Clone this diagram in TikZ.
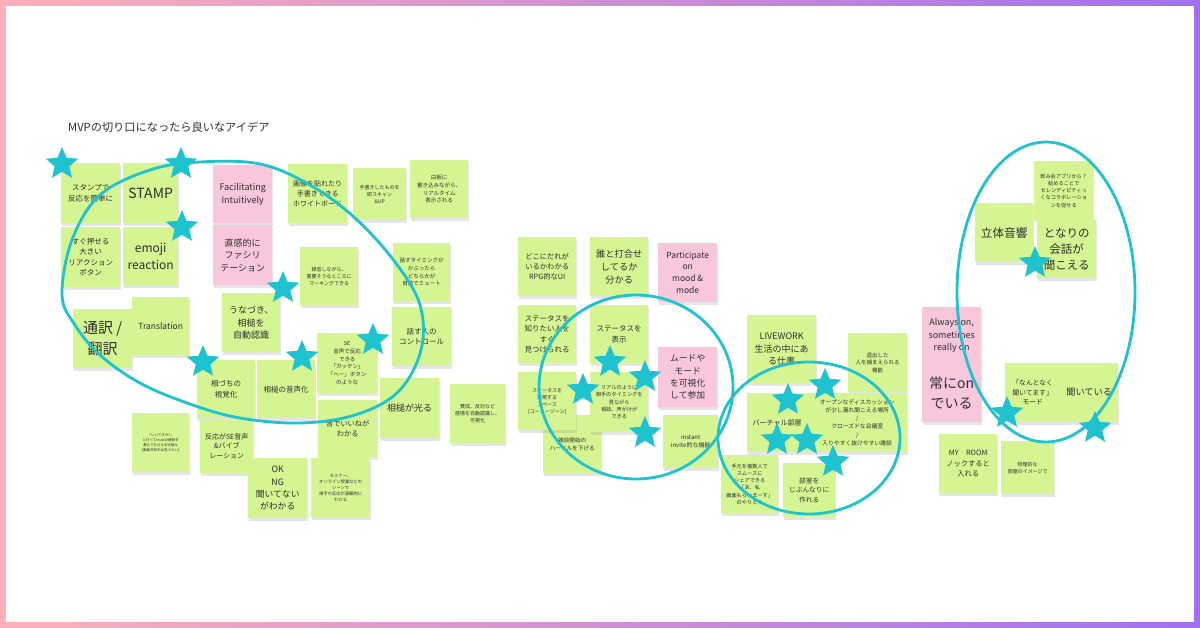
\documentclass[tikz,border=0pt]{standalone}
\usepackage{fontspec}
\setmainfont{Noto Sans CJK JP}
\usetikzlibrary{shapes.geometric,shadows}
\definecolor{notegreen}{HTML}{D5F592}
\definecolor{notepink}{HTML}{F8C7DB}
\definecolor{ringteal}{HTML}{1EC3CF}
\definecolor{inktext}{HTML}{2E2E2E}
\definecolor{borderpink}{HTML}{FFB0B8}
\definecolor{borderpurple}{HTML}{A26FF0}
\newcommand\fsz[1]{\dimen0=#1pt\relax\dimen2=1.4\dimen0\relax\fontsize{\the\dimen0}{\the\dimen2}\selectfont}
\tikzset{
  note/.style={anchor=north west, align=center, inner sep=1pt, text=inktext,
    drop shadow={opacity=0.2, shadow xshift=0.5pt, shadow yshift=-2.5pt}},
  ring/.style={draw=ringteal, line width=2.8pt},
  tealstar/.style={star, star points=5, star point ratio=2.2, minimum size=34pt,
    inner sep=0pt, fill=ringteal, draw=none},
}
\newcommand\stick[8]{\node[note,fill=#6,minimum width=#4pt,minimum height=#5pt,font=\fsz{#7}] (#1) at (#2,#3) {#8};}
\begin{document}
\begin{tikzpicture}[x=1pt,y=-1pt]
\useasboundingbox (0,0) rectangle (1200,628);
\shade[left color=borderpink, right color=borderpurple] (0,0) rectangle (1200,628);
\fill[white] (6,6) rectangle (1194,622);
\node[anchor=west, font=\fsz{11.2}, text=inktext, inner sep=0pt] (title) at (68,127) {MVPの切り口になったら良いなアイデア};
% left cluster
\stick{n1}{61}{163}{59}{60}{notegreen}{7.5}{スタンプで\\反応を簡単に}
\stick{n2}{123}{163}{55}{60}{notegreen}{14}{STAMP}
\stick{n3}{213}{165}{59}{58}{notepink}{9}{Facilitating\\Intuitively}
\stick{n4}{61}{227}{59}{60}{notegreen}{7.5}{すぐ押せる\\大きい\\リアクション\\ボタン}
\stick{n5}{123}{227}{55}{58}{notegreen}{12}{emoji\\reaction}
\stick{n6}{213}{225}{59}{60}{notepink}{9}{直感的に\\ファシリ\\テーション}
\stick{n7}{288}{164}{59}{59}{notegreen}{7}{画像を貼れたり\\手書きできる\\ホワイトボード}
\stick{n8}{353}{168}{53}{52}{notegreen}{5}{手書きしたものを\\即スキャン\\\&UP}
\stick{n9}{410}{160}{58}{58}{notegreen}{5.5}{白板に\\書き込みながら、\\リアルタイム\\表示される}
\stick{n10}{300}{247}{58}{58}{notegreen}{5}{録音しながら、\\重要そうなところに\\マーキングできる}
\stick{n11}{393}{243}{57}{58}{notegreen}{5.5}{話すタイミングが\\かぶったら\\どちらかが\\自動でミュート}
\stick{n12}{73}{309}{59}{59}{notegreen}{15}{通訳 /\\翻訳}
\stick{n13}{132}{297}{57}{58}{notegreen}{8.5}{Translation}
\stick{n14}{222}{293}{58}{59}{notegreen}{9}{うなづき、\\相槌を\\自動認識}
\stick{n15}{197}{360}{58}{58}{notegreen}{7.5}{相づちの\\視覚化}
\stick{n16}{257}{360}{58}{58}{notegreen}{7.5}{相槌の音声化}
\stick{n17}{317}{333}{60}{60}{notegreen}{5.5}{SE\\音声で反応\\できる\\「ガッテン」\\「へー」ボタン\\のような}
\stick{n18}{392}{307}{59}{59}{notegreen}{7.5}{話す人の\\コントロール}
\stick{n19}{380}{378}{59}{60}{notegreen}{9}{相槌が光る}
\stick{n20}{450}{384}{55}{59}{notegreen}{5}{賛成、反対など\\感情を自動認識し、\\可視化}
\stick{n21}{318}{400}{59}{57}{notegreen}{7.2}{音でいいねが\\わかる}
\stick{n22}{132}{413}{57}{59}{notegreen}{3.5}{「いいですか?」\\と打ってmuteの解除を\\教えてもらえる仕組み\\(画面共有中は見づらい)}
\stick{n23}{200}{419}{53}{54}{notegreen}{7}{反応がSE音声\\\&バイブ\\レーション}
\stick{n24}{248}{458}{59}{60}{notegreen}{8.8}{OK\\NG\\聞いてない\\がわかる}
\stick{n25}{311}{458}{59}{59}{notegreen}{4.3}{セミナー、\\オンライン授業などの\\シーンで\\相手の反応が直観的に\\わかる}
% middle cluster
\stick{n26}{518}{237}{58}{59}{notegreen}{7.3}{どこにだれが\\いるかわかる\\RPG的なUI}
\stick{n27}{590}{237}{58}{59}{notegreen}{9.2}{誰と打合せ\\してるか\\分かる}
\stick{n28}{658}{243}{59}{59}{notepink}{8.5}{Participate\\on\\mood \&\\mode}
\stick{n29}{518}{305}{58}{58}{notegreen}{7.5}{ステータスを\\知りたい人を\\すぐ\\見つけられる}
\stick{n30}{590}{305}{58}{58}{notegreen}{7.5}{ステータスを\\表示}
\stick{n31}{658}{347}{59}{60}{notepink}{8.8}{ムードや\\モード\\を可視化\\して参加}
\stick{n34}{543}{415}{58}{58}{notegreen}{5.6}{雑談開始の\\ハードルを下げる}
\stick{n32}{518}{372}{58}{58}{notegreen}{5}{ステータスを\\表現する\\スペース\\{[}コーヒーゾーン{]}}
\stick{n33}{590}{372}{58}{60}{notegreen}{5.2}{リアルのように\\相手のタイミングを\\見ながら\\相談、声がけが\\できる}
\stick{n35}{663}{415}{55}{53}{notegreen}{6}{instant\\invite的な機能}
% right-middle cluster
\stick{n36}{747}{315}{69}{68}{notegreen}{9}{LIVEWORK\\生活の中にあ\\る仕事}
\stick{n37}{848}{333}{59}{59}{notegreen}{5.5}{退出した\\人を捕まえられる\\機能}
\stick{n38}{747}{393}{60}{59}{notegreen}{7}{バーチャル部屋}
\stick{n39}{807}{393}{100}{59}{notegreen}{5.8}{オープンなディスカッション\\が少し漏れ聞こえる場所\\/\\クローズドな会議室\\/\\入りやすく抜けやすい雑談}
\stick{n40}{721}{455}{57}{58}{notegreen}{5.2}{手元を複数人で\\スムーズに\\シェアできる\\「あ、私\\画面もらいまーす」\\のやりとり}
\stick{n41}{783}{463}{52}{54}{notegreen}{6.7}{部室を\\じぶんなりに\\作れる}
% right cluster
\stick{n42}{975}{203}{58}{59}{notegreen}{11.7}{立体音響}
\stick{n43}{1034}{161}{59}{59}{notegreen}{5.2}{飲み会アプリから？\\始めることで\\セレンディピティっ\\くなコラボレーショ\\ンを促せる}
\stick{n44}{1037}{220}{59}{58}{notegreen}{11.5}{となりの\\会話が\\聞こえる}
\stick{n45}{922}{307}{59}{57}{notepink}{9}{Always on,\\sometimes\\really on}
\stick{n46}{922}{363}{59}{59}{notepink}{14}{常にon\\でいる}
\stick{n47}{1005}{363}{55}{59}{notegreen}{6.8}{「なんとなく\\聞いてます」\\モード}
\stick{n48}{1060}{363}{58}{59}{notegreen}{9.2}{聞いている}
\stick{n49}{939}{434}{58}{59}{notegreen}{7.3}{MY\quad ROOM\\ノックすると\\入れる}
\stick{n50}{1001}{441}{53}{53}{notegreen}{5}{物理的な\\部屋のイメージで}
% rings
\draw[ring] plot[smooth cycle, tension=0.6] coordinates {(62,295) (72,240) (100,195) (150,170) (200,162) (260,164) (310,185) (355,218) (395,262) (420,305) (421,350) (398,392) (355,415) (300,423) (240,418) (190,404) (140,383) (100,355) (75,325)};
\draw[ring] (636,387) ellipse [x radius=97, y radius=92];
\draw[ring] (809,438) ellipse [x radius=91, y radius=76];
\draw[ring] (1046,292) ellipse [x radius=89, y radius=150];
% stars
\foreach \nm/\sx/\sy in {s1/62/164, s2/181/164, s3/182/227, s4/283/288, s5/203/362, s6/302/357, s7/373/340,
  s8/610/362, s9/583/390, s10/645/377, s11/645/433,
  s12/788/400, s13/825/385, s14/777/440, s15/807/440, s16/833/462,
  s17/1035/263, s18/1007/413, s19/1095/428}
  \node[tealstar] (\nm) at (\sx,\sy) {};
\end{tikzpicture}
\end{document}
